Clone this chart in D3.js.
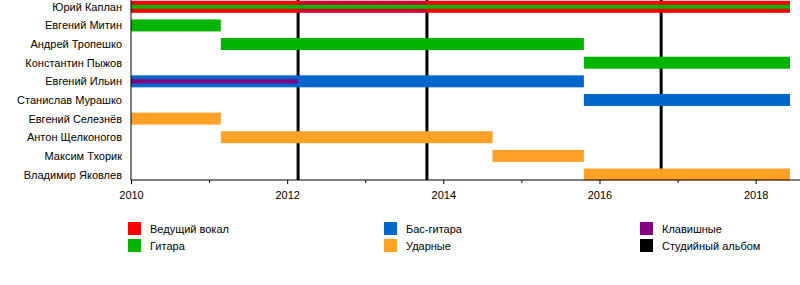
<!DOCTYPE html>
<meta charset="utf-8">
<style>
body { margin: 0; background: #fff; }
svg text { font-family: 'Liberation Sans', Arial, sans-serif; font-size: 11px; fill: #000; }
</style>
<body>
<svg class="timeline"></svg>
<script src="https://d3js.org/d3.v7.min.js"></script>
<script>
// canvas size
let rwidth = 800, rheight = 285;

// members, top to bottom
let members = ['Юрий Каплан', 'Евгений Митин', 'Андрей Тропешко', 'Константин Пыжов',
  'Евгений Ильин', 'Станислав Мурашко', 'Евгений Селезнёв', 'Антон Щелконогов',
  'Максим Тхорик', 'Владимир Яковлев'];

// roles + colours (legend order)
let roles = ['Ведущий вокал', 'Гитара', 'Бас-гитара', 'Ударные', 'Клавишные', 'Студийный альбом'];
let roleColors = ['#ff0000', '#00b400', '#0066cc', '#ffa027', '#800080', '#000000'];

// main bars: member, role, from, to
let mainBars = [
  ['Юрий Каплан', 'Ведущий вокал', 2010, 2018.44],
  ['Евгений Митин', 'Гитара', 2010, 2011.15],
  ['Андрей Тропешко', 'Гитара', 2011.15, 2015.8],
  ['Константин Пыжов', 'Гитара', 2015.8, 2018.44],
  ['Евгений Ильин', 'Бас-гитара', 2010, 2015.8],
  ['Станислав Мурашко', 'Бас-гитара', 2015.8, 2018.44],
  ['Евгений Селезнёв', 'Ударные', 2010, 2011.15],
  ['Антон Щелконогов', 'Ударные', 2011.15, 2014.63],
  ['Максим Тхорик', 'Ударные', 2014.63, 2015.8],
  ['Владимир Яковлев', 'Ударные', 2015.8, 2018.44]
];

// secondary roles drawn as thin stripes
let overlayBars = [
  ['Юрий Каплан', 'Клавишные', 2012.14, 2013.79],
  ['Юрий Каплан', 'Гитара', 2010, 2018.44],
  ['Евгений Ильин', 'Клавишные', 2010, 2012.14]
];

// studio albums
let albums = [2012.14, 2013.79, 2016.79];

let yearTicks = [2010, 2012, 2014, 2016, 2018];
let minorTicks = [2011, 2013, 2015, 2017];

let svg = d3.select('.timeline')
  .attr('width', rwidth)
  .attr('height', rheight);

let color = d3.scaleOrdinal().domain(roles).range(roleColors);

let xscale = d3.scaleLinear().domain([2010, 2018.44]).range([131, 790]);
let yscale = d3.scalePoint().domain(members).range([6.8, 174.5]);
let axisY = 180;

// album lines go under the bars
svg.selectAll('.album')
  .data(albums)
  .join('line')
  .attr('x1', d => xscale(d)).attr('x2', d => xscale(d))
  .attr('y1', 0).attr('y2', axisY)
  .attr('stroke', color('Студийный альбом'))
  .attr('stroke-width', 3);

svg.selectAll('.bar')
  .data(mainBars)
  .join('rect')
  .attr('x', d => xscale(d[2]))
  .attr('width', d => xscale(d[3]) - xscale(d[2]))
  .attr('y', d => yscale(d[0]) - 6)
  .attr('height', 12)
  .attr('fill', d => color(d[1]));

// keyboards on the singer row blend with the red
let isBlend = d => d[0] == 'Юрий Каплан' && d[1] == 'Клавишные';
svg.selectAll('.over')
  .data(overlayBars)
  .join('rect')
  .attr('x', d => xscale(d[2]))
  .attr('width', d => xscale(d[3]) - xscale(d[2]))
  .attr('y', d => isBlend(d) ? yscale(d[0]) - 6 : yscale(d[0]) - 2)
  .attr('height', d => isBlend(d) ? 12 : 4)
  .attr('fill', d => color(d[1]))
  .attr('opacity', d => isBlend(d) ? 0.35 : 1);

// axes
let xaxis = svg.append('g')
  .attr('transform', `translate(0,${axisY})`)
  .call(d3.axisBottom(xscale).tickValues(yearTicks).tickFormat(d3.format('d')).tickSize(4).tickPadding(7));
svg.append('g')
  .attr('transform', `translate(0,${axisY})`)
  .call(d3.axisBottom(xscale).tickValues(minorTicks).tickFormat('').tickSize(3))
  .select('.domain').remove();
xaxis.select('.domain').attr('d', `M${xscale(2010)},0H800`);
svg.selectAll('.tick line').attr('stroke', '#000');
xaxis.selectAll('text').style('font-size', '11px').style('font-family', "'Liberation Sans', Arial, sans-serif");

svg.append('line')
  .attr('x1', 131).attr('x2', 131)
  .attr('y1', 0).attr('y2', axisY)
  .attr('stroke', '#000');

// member labels
svg.selectAll('.name')
  .data(members)
  .join('text')
  .attr('x', 122)
  .attr('y', d => yscale(d) + 4)
  .attr('text-anchor', 'end')
  .text(d => d);

// legend, three columns of two
let legendX = [128, 384, 640];
let legendY = [222, 239];
let legend = svg.selectAll('.legend')
  .data(roles)
  .join('g')
  .attr('transform', (d, i) => `translate(${legendX[Math.floor(i / 2)]},${legendY[i % 2]})`);
legend.append('rect')
  .attr('width', 13).attr('height', 13)
  .attr('fill', d => color(d));
legend.append('text')
  .attr('x', 22).attr('y', 10.5)
  .text(d => d);
</script>
</body>
